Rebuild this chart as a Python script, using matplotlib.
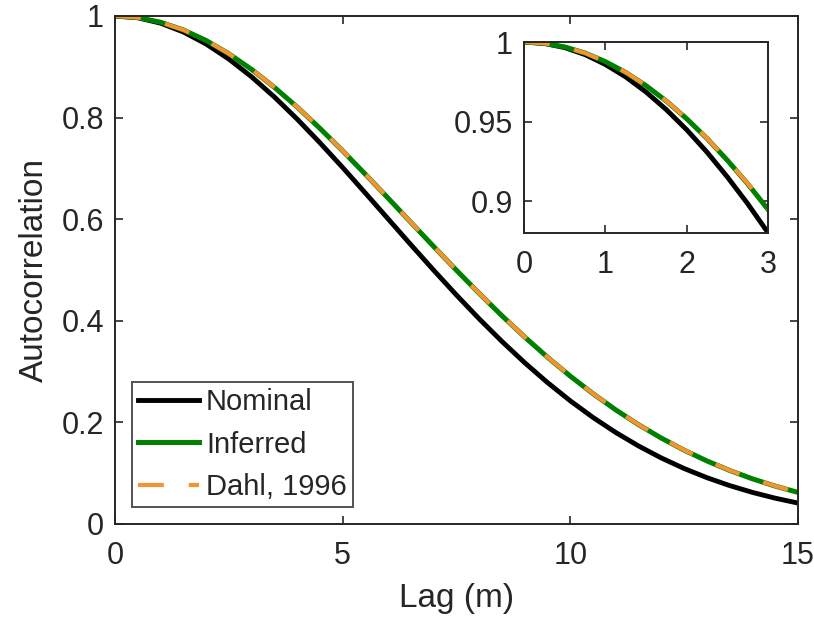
import matplotlib
matplotlib.use("Agg")
import matplotlib.pyplot as plt

plt.rcParams['font.family'] = ['Liberation Sans', 'DejaVu Sans']

# lag (m), every 0.5 m
lag = [0, 0.5, 1, 1.5, 2, 2.5, 3, 3.5, 4, 4.5, 5, 5.5, 6, 6.5, 7, 7.5,
       8, 8.5, 9, 9.5, 10, 10.5, 11, 11.5, 12, 12.5, 13, 13.5, 14, 14.5, 15]
nominal = [1.000, 0.9965, 0.9859, 0.9686, 0.9449, 0.9152, 0.8802, 0.8406,
           0.7971, 0.7505, 0.7017, 0.6513, 0.6004, 0.5495, 0.4994, 0.4506,
           0.4037, 0.3592, 0.3173, 0.2783, 0.2424, 0.2096, 0.1800, 0.1535,
           0.1299, 0.1092, 0.0912, 0.0756, 0.0622, 0.0508, 0.0412]
inferred = [1.000, 0.9969, 0.9877, 0.9726, 0.9518, 0.9257, 0.8948, 0.8596,
            0.8208, 0.7788, 0.7345, 0.6883, 0.6412, 0.5936, 0.5461, 0.4994,
            0.4538, 0.4098, 0.3679, 0.3282, 0.2910, 0.2564, 0.2245, 0.1954,
            0.1690, 0.1453, 0.1241, 0.1054, 0.0889, 0.0746, 0.0622]
dahl = [1.000, 0.9969, 0.9877, 0.9726, 0.9519, 0.9258, 0.8950, 0.8598,
        0.8210, 0.7790, 0.7347, 0.6885, 0.6414, 0.5938, 0.5463, 0.4996,
        0.4540, 0.4100, 0.3681, 0.3284, 0.2912, 0.2566, 0.2247, 0.1956,
        0.1692, 0.1455, 0.1243, 0.1056, 0.0891, 0.0748, 0.0624]

# zoomed part, 0-3 m every 0.25 m
lag_zoom = [0, 0.25, 0.5, 0.75, 1, 1.25, 1.5, 1.75, 2, 2.25, 2.5, 2.75, 3]
nominal_zoom = [1.000, 0.9991, 0.9965, 0.9921, 0.9859, 0.9781, 0.9686,
                0.9575, 0.9449, 0.9308, 0.9152, 0.8984, 0.8802]
inferred_zoom = [1.000, 0.9992, 0.9969, 0.9931, 0.9877, 0.9809, 0.9726,
                 0.9629, 0.9518, 0.9394, 0.9257, 0.9109, 0.8948]
dahl_zoom = [1.000, 0.9992, 0.9969, 0.9931, 0.9877, 0.9810, 0.9727,
             0.9630, 0.9519, 0.9395, 0.9258, 0.9111, 0.8950]

black = 'black'
green = '#008000'
orange = '#F39332'
axcol = '#262626'
fs = 22

def style(ax):
    for s in ax.spines.values():
        s.set_color(axcol)
        s.set_linewidth(1.4)
    ax.tick_params(direction='in', top=True, right=True, length=6, width=1.2,
                   colors=axcol, labelsize=fs, labelcolor=axcol)
    ax.tick_params(axis='x', pad=12)
    ax.tick_params(axis='y', pad=8)

fig = plt.figure(figsize=(8.14, 6.27), dpi=100)
ax = fig.add_axes([0.1413, 0.1643, 0.839, 0.8102])
ax.plot(lag, nominal, color=black, lw=3.5, label='Nominal')
ax.plot(lag, inferred, color=green, lw=3.6, label='Inferred')
ax.plot(lag, dahl, color=orange, lw=3.0, dashes=(6.2, 6), label='Dahl, 1996')
ax.set_xlim(0, 15)
ax.set_ylim(0, 1)
ax.set_xticks([0, 5, 10, 15])
ax.set_xticklabels(['0', '5', '10', '15'])
ax.set_yticks([0, 0.2, 0.4, 0.6, 0.8, 1])
ax.set_yticklabels(['0', '0.2', '0.4', '0.6', '0.8', '1'])
ax.set_xlabel('Lag (m)', fontsize=24, color=axcol, labelpad=9)
ax.set_ylabel('Autocorrelation', fontsize=24, color=axcol, labelpad=8)
style(ax)
leg = ax.legend(loc='lower left', fontsize=21, frameon=True, fancybox=False,
                edgecolor=axcol, handlelength=2.1, handletextpad=0.24,
                borderpad=0.2, labelspacing=0.5, borderaxespad=0.58)
leg.get_frame().set_linewidth(1.4)
for t in leg.get_texts():
    t.set_color(axcol)

ins = fig.add_axes([0.6437, 0.6284, 0.2998, 0.3046])
ins.plot(lag_zoom, nominal_zoom, color=black, lw=3.5)
ins.plot(lag_zoom, inferred_zoom, color=green, lw=3.6)
ins.plot(lag_zoom, dahl_zoom, color=orange, lw=3.0, dashes=(6.2, 6))
ins.set_xlim(0, 3)
ins.set_ylim(0.88, 1)
ins.set_xticks([0, 1, 2, 3])
ins.set_yticks([0.9, 0.95, 1])
ins.set_yticklabels(['0.9', '0.95', '1'])
style(ins)

plt.savefig('out.png', dpi=100)
